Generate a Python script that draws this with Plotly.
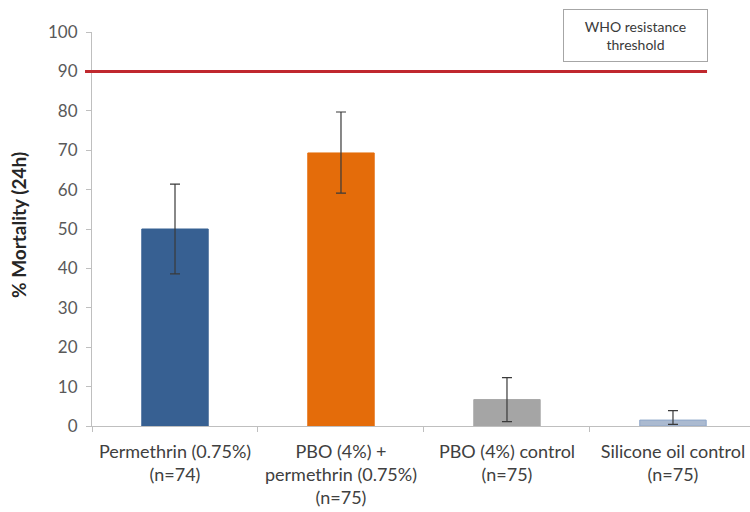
import plotly.graph_objects as go

# Bioassay results: 24 h mortality per treatment
categories = [
    "Permethrin (0.75%)<br>(n=74)",
    "PBO (4%) +<br>permethrin (0.75%)<br>(n=75)",
    "PBO (4%) control<br>(n=75)",
    "Silicone oil control<br>(n=75)",
]
mortality = [50.0, 69.3, 6.7, 1.5]
ci_upper = [11.4, 10.4, 5.6, 2.4]
ci_lower = [11.4, 10.2, 5.6, 1.1]
bar_colors = ["#376092", "#E46C0A", "#A5A5A5", "#ABBAD0"]
bar_lines = ["#376092", "#E46C0A", "#A5A5A5", "#8EA6C8"]
who_threshold = 90

FONT = "Lato"

fig = go.Figure()
fig.add_trace(go.Bar(
    x=categories,
    y=mortality,
    width=0.4,
    marker=dict(color=bar_colors, line=dict(color=bar_lines, width=1)),
    error_y=dict(
        type="data",
        symmetric=False,
        array=ci_upper,
        arrayminus=ci_lower,
        color="#3A3A3A",
        thickness=1.2,
        width=5,
    ),
    showlegend=False,
))

# WHO resistance threshold line
fig.add_shape(
    type="line", xref="paper", yref="y",
    x0=-0.0106, x1=0.9347, y0=who_threshold, y1=who_threshold,
    line=dict(color="#C0282E", width=3),
)

fig.add_annotation(
    xref="paper", yref="paper", x=0.826, y=0.991,
    xanchor="center", yanchor="middle",
    text="WHO resistance<br>threshold", showarrow=False,
    font=dict(family=FONT, size=14, color="#3A3A3A"),
    bordercolor="#A6A6A6", borderwidth=1, borderpad=2,
    width=139, height=47, align="center",
    bgcolor="white",
)

fig.add_annotation(
    xref="paper", yref="paper", x=(18 - 92) / 658, y=0.51,
    xanchor="center", yanchor="middle",
    text="<b>% Mortality (24h)</b>", showarrow=False, textangle=-90,
    font=dict(family=FONT, size=19, color="#262626"),
)

fig.update_layout(
    width=750, height=512,
    margin=dict(l=92, r=0, t=32, b=86),
    paper_bgcolor="white", plot_bgcolor="white",
    xaxis=dict(
        type="category",
        range=[-0.5, 3.464],
        showline=True, linecolor="#BFBFBF", linewidth=1,
        ticks="outside", tickson="boundaries", ticklen=5, tickcolor="#BFBFBF",
        showgrid=False, zeroline=False,
        ticklabelstandoff=9,
        tickfont=dict(family=FONT, size=18, color="#404040"),
    ),
    yaxis=dict(
        range=[0, 100], dtick=10,
        showline=True, linecolor="#BFBFBF", linewidth=1,
        ticks="outside", ticklen=5, tickcolor="#BFBFBF",
        showgrid=False, zeroline=False,
        ticklabelstandoff=5,
        tickfont=dict(family=FONT, size=17, color="#595959"),
    ),
)

fig.write_html("out.html")
